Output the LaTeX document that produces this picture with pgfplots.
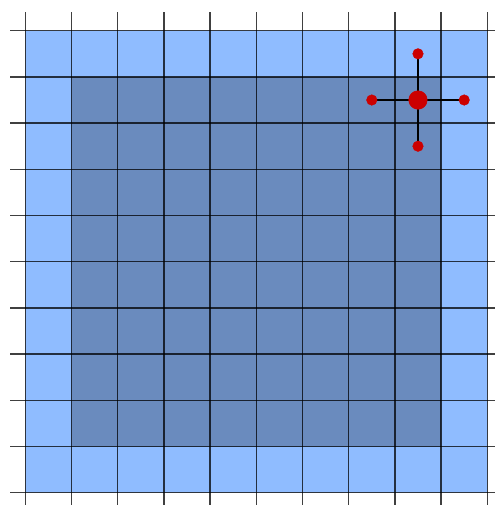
\documentclass[border=0pt]{standalone}
\usepackage{pgfplots}
\pgfplotsset{compat=1.18}
\definecolor{outerblue}{RGB}{143,188,255}
\definecolor{innerblue}{RGB}{106,139,190}
\definecolor{stencilred}{RGB}{204,0,0}
\begin{document}
\begin{tikzpicture}
\begin{axis}[
  width=495bp, height=505bp, scale only axis,
  xmin=-0.548, xmax=10.167,
  ymin=-0.266, ymax=10.665,
  hide axis,
  clip=true,
]
% invisible frame fixing the picture size
\addplot[draw=none] coordinates {(-0.548,-0.266) (10.167,10.665)};
% boundary cells and interior cells
\addplot[fill=outerblue, draw=none] coordinates {(0,0) (10,0) (10,10) (0,10) (0,0)};
\addplot[fill=innerblue, draw=none] coordinates {(1,1) (9,1) (9,9) (1,9) (1,1)};
% grid lines
\pgfplotsinvokeforeach{0,...,10}{
  \addplot[black, opacity=0.75, line width=1.3bp] coordinates {(#1,-0.266) (#1,10.40)};
  \addplot[black, opacity=0.75, line width=1.3bp] coordinates {(-0.33,#1) (10.167,#1)};
}
% five-point stencil
\addplot[black, line width=1.4bp] coordinates {(7.5,8.5) (9.5,8.5)};
\addplot[black, line width=1.4bp] coordinates {(8.5,7.5) (8.5,9.5)};
\addplot[only marks, mark=*, mark size=5.3bp, color=stencilred] coordinates {
  (7.5,8.5) (9.5,8.5) (8.5,7.5) (8.5,9.5)
};
\addplot[only marks, mark=*, mark size=9.3bp, color=stencilred] coordinates {(8.5,8.5)};
\end{axis}
\end{tikzpicture}
\end{document}
